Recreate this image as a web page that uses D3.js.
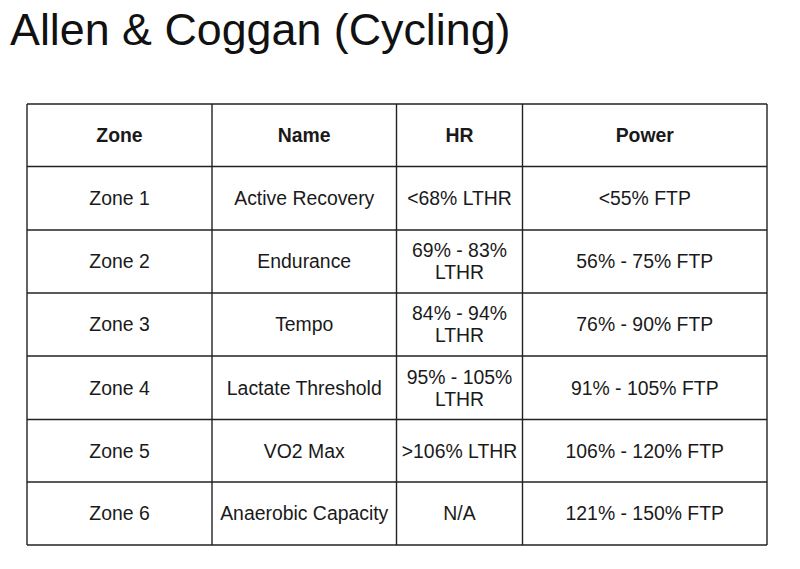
<!DOCTYPE html>
<html><head><meta charset="utf-8">
<script src="https://cdn.jsdelivr.net/npm/d3@7/dist/d3.min.js"></script>
<style>html,body{margin:0;padding:0;background:#fff;}</style>
</head><body>
<svg id="c" width="800" height="569"></svg>
<script>
const title = "Allen & Coggan (Cycling)";
const headers = ["Zone", "Name", "HR", "Power"];
const zones = ["Zone 1", "Zone 2", "Zone 3", "Zone 4", "Zone 5", "Zone 6"];
const names = ["Active Recovery", "Endurance", "Tempo", "Lactate Threshold", "VO2 Max", "Anaerobic Capacity"];
const hr = [["<68% LTHR"], ["69% - 83%", "LTHR"], ["84% - 94%", "LTHR"], ["95% - 105%", "LTHR"], [">106% LTHR"], ["N/A"]];
const power = ["<55% FTP", "56% - 75% FTP", "76% - 90% FTP", "91% - 105% FTP", "106% - 120% FTP", "121% - 150% FTP"];

// layout
const colEdges = [27, 212, 396.5, 522.5, 767];
const rowEdges = [104, 166.5, 230, 293, 356, 419.5, 482, 545];
const font = "'Liberation Sans', Arial, sans-serif";
const svg = d3.select("#c");

svg.append("text").attr("x", 10).attr("y", 44.5)
  .attr("font-family", font).attr("font-size", 44.8).attr("fill", "#111")
  .text(title);

const rows = [headers.map(h => [h])].concat(zones.map((z, i) => [[z], [names[i]], hr[i], [power[i]]]));

const rowTop = i => rowEdges[i], rowH = i => rowEdges[i+1] - rowEdges[i];

const g = svg.append("g");
rows.forEach((r, ri) => {
  r.forEach((lines, ci) => {
    const cx = (colEdges[ci] + colEdges[ci+1]) / 2;
    const cy = rowTop(ri) + rowH(ri) / 2;
    const lh = 22;
    const t = g.append("text").attr("text-anchor", "middle")
      .attr("font-family", font).attr("font-size", 19.4)
      .attr("font-weight", ri === 0 ? "bold" : "normal")
      .attr("fill", "#1a1a1a");
    lines.forEach((ln, li) => {
      t.append("tspan").attr("x", cx)
        .attr("y", cy + (li - (lines.length - 1) / 2) * lh + 6.9)
        .text(ln);
    });
  });
});

const stroke = "#222";
g.selectAll("line.h").data(rowEdges).join("line")
  .attr("x1", colEdges[0]).attr("x2", colEdges[colEdges.length-1])
  .attr("y1", d => d).attr("y2", d => d)
  .attr("stroke", stroke).attr("stroke-width", 1.4);
g.selectAll("line.v").data(colEdges).join("line")
  .attr("y1", rowEdges[0]).attr("y2", rowEdges[rowEdges.length-1])
  .attr("x1", d => d).attr("x2", d => d)
  .attr("stroke", stroke).attr("stroke-width", 1.4);
</script>
</body></html>
